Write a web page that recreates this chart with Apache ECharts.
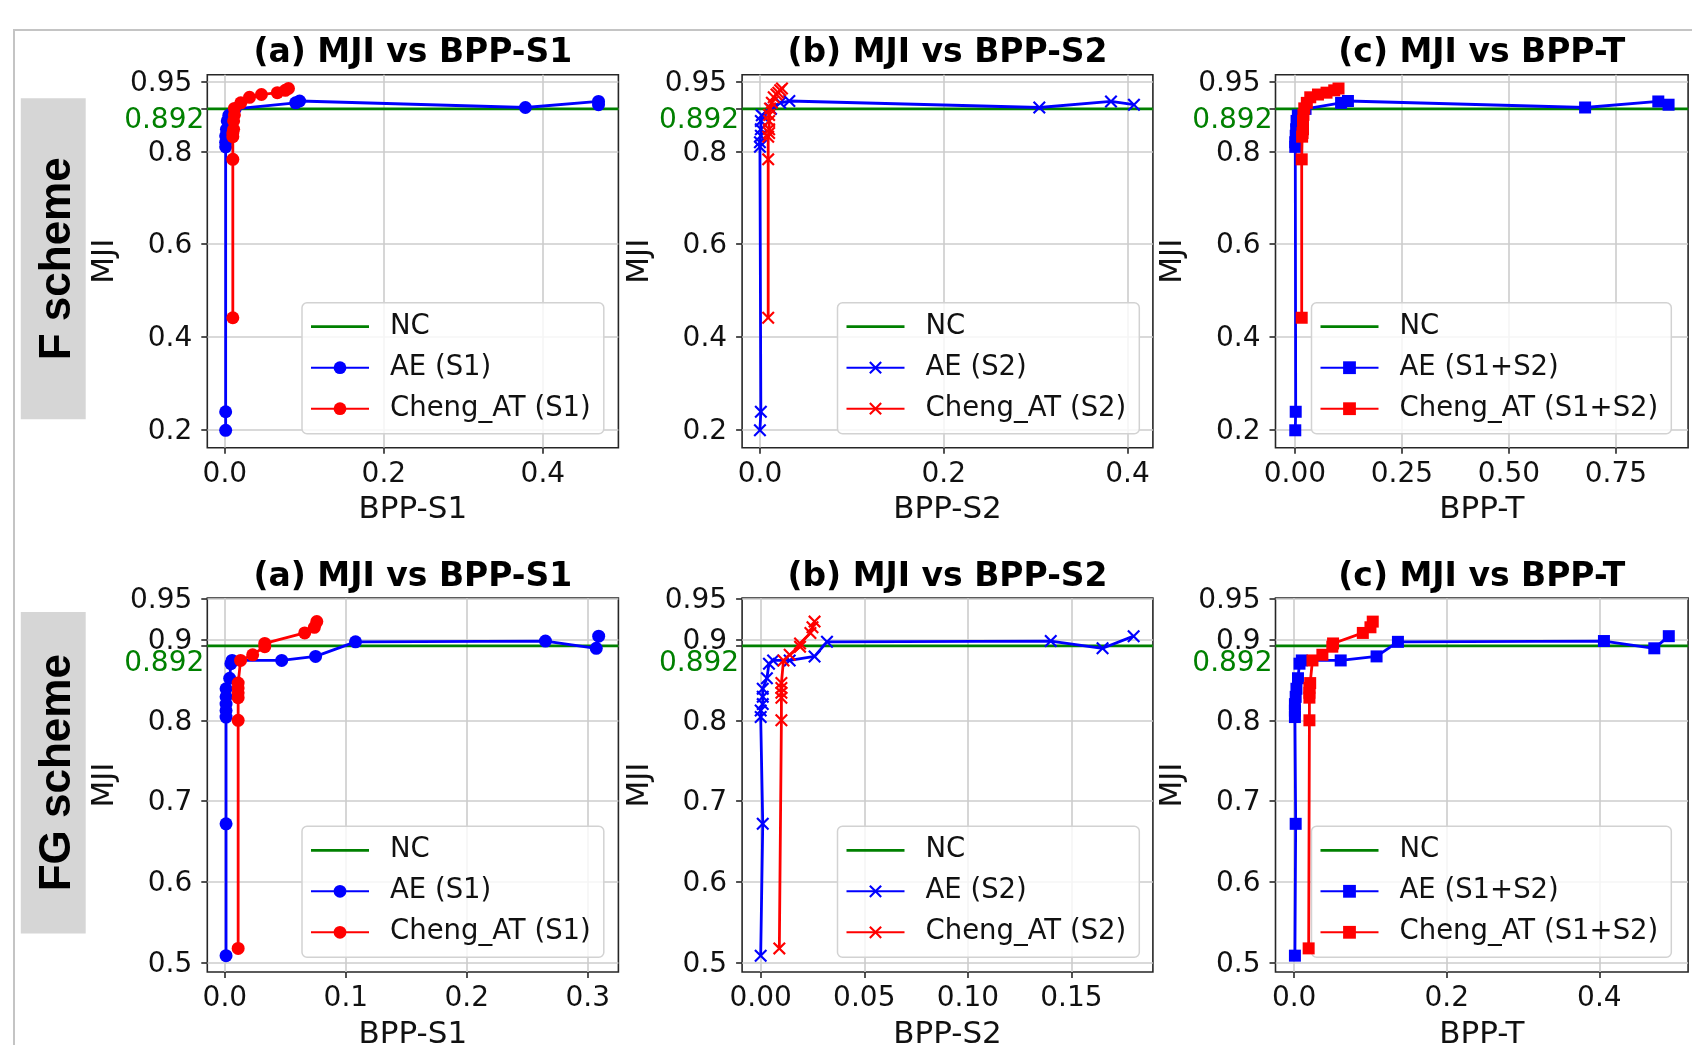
<!DOCTYPE html>
<html>
<head>
<meta charset="utf-8">
<script src="https://cdn.jsdelivr.net/npm/echarts@6/dist/echarts.min.js"></script>
<style>
  html, body { margin: 0; padding: 0; background: #fff; }
  #chart { width: 1692px; height: 1045px; }
</style>
</head>
<body>
<div id="chart"></div>
<script>
// NC reference MJI
const ncMji = 0.892;

// F scheme - AE
const fAeMji = [0.198, 0.238, 0.810, 0.820, 0.834, 0.848, 0.866, 0.878, 0.892, 0.905, 0.909, 0.895, 0.908, 0.901];
const fAeS1  = [0.001, 0.001, 0.001, 0.001, 0.001, 0.002, 0.003, 0.005, 0.013, 0.089, 0.094, 0.378, 0.470, 0.470];
const fAeS2  = [0.000, 0.001, 0.000, 0.000, 0.001, 0.001, 0.001, 0.002, 0.012, 0.022, 0.032, 0.304, 0.382, 0.407];
const fAeT   = [0.001, 0.002, 0.001, 0.001, 0.002, 0.003, 0.004, 0.007, 0.025, 0.108, 0.124, 0.678, 0.849, 0.873];

// F scheme - Cheng_AT
const fChMji = [0.441, 0.783, 0.832, 0.840, 0.848, 0.866, 0.879, 0.893, 0.905, 0.917, 0.923, 0.927, 0.932, 0.936];
const fChS1  = [0.010, 0.010, 0.010, 0.010, 0.011, 0.011, 0.012, 0.012, 0.020, 0.031, 0.046, 0.066, 0.076, 0.080];
const fChS2  = [0.009, 0.009, 0.009, 0.010, 0.010, 0.010, 0.010, 0.011, 0.013, 0.015, 0.018, 0.020, 0.022, 0.024];
const fChT   = [0.016, 0.016, 0.017, 0.018, 0.019, 0.019, 0.020, 0.022, 0.028, 0.036, 0.054, 0.074, 0.092, 0.102];

// FG scheme - AE
const fgAeMji = [0.509, 0.672, 0.804, 0.812, 0.820, 0.829, 0.839, 0.852, 0.870, 0.874, 0.874, 0.879, 0.897, 0.898, 0.889, 0.904];
const fgAeS1  = [0.001, 0.001, 0.001, 0.001, 0.001, 0.001, 0.001, 0.004, 0.005, 0.006, 0.047, 0.075, 0.108, 0.265, 0.307, 0.309];
const fgAeS2  = [0.000, 0.001, 0.000, 0.000, 0.001, 0.001, 0.001, 0.003, 0.004, 0.006, 0.014, 0.026, 0.032, 0.140, 0.165, 0.180];
const fgAeT   = [0.001, 0.002, 0.001, 0.001, 0.001, 0.002, 0.003, 0.005, 0.007, 0.010, 0.061, 0.108, 0.136, 0.406, 0.472, 0.491];

// FG scheme - Cheng_AT
const fgChMji = [0.518, 0.800, 0.828, 0.834, 0.840, 0.846, 0.874, 0.881, 0.891, 0.895, 0.908, 0.915, 0.922];
const fgChS1  = [0.011, 0.011, 0.011, 0.011, 0.011, 0.011, 0.013, 0.023, 0.033, 0.033, 0.066, 0.074, 0.076];
const fgChS2  = [0.009, 0.010, 0.010, 0.010, 0.010, 0.010, 0.011, 0.014, 0.019, 0.019, 0.024, 0.025, 0.026];
const fgChT   = [0.019, 0.020, 0.020, 0.020, 0.020, 0.021, 0.024, 0.037, 0.050, 0.051, 0.090, 0.100, 0.103];

// tick labels
const yTicksF  = [0.2, 0.4, 0.6, 0.8, 0.892, 0.95];
const yTicksFG = [0.5, 0.6, 0.7, 0.8, 0.892, 0.9, 0.95];
const xTicksFS1  = [0, 0.2, 0.4];
const xTicksFS2  = [0, 0.2, 0.4];
const xTicksFT   = [0, 0.25, 0.5, 0.75];
const xTicksFGS1 = [0, 0.1, 0.2, 0.3];
const xTicksFGS2 = [0, 0.05, 0.1, 0.15];
const xTicksFGT  = [0, 0.2, 0.4];

const rowLabels = ['F scheme', 'FG scheme'];
const titles = ['(a) MJI vs BPP-S1', '(b) MJI vs BPP-S2', '(c) MJI vs BPP-T'];
const xNames = ['BPP-S1', 'BPP-S2', 'BPP-T'];
const aeNames = ['AE (S1)', 'AE (S2)', 'AE (S1+S2)'];
const chNames = ['Cheng_AT (S1)', 'Cheng_AT (S2)', 'Cheng_AT (S1+S2)'];

const pairs = (xs, ys) => xs.map((x, i) => [x, ys[i]]);

const CROSS = 'path://M1.4,0L6,4.6L10.6,0L12,1.4L7.4,6L12,10.6L10.6,12L6,7.4L1.4,12L0,10.6L4.6,6L0,1.4Z';
const LINE_ICON = 'path://M0,0L58,0L58,2.8L0,2.8Z';
const symbols = ['circle', CROSS, 'rect'];

const FONT = '"DejaVu Sans", sans-serif';
const INK = '#111';

const cols = [
  { left: 207.3, width: 411.1, legendLeft: 302 },
  { left: 742.1, width: 410.8, legendLeft: 837.5 },
  { left: 1275.5, width: 412.6, legendLeft: 1311.5 }
];
const rows = [
  { top: 74.7, height: 373, yMin: 0.1604, yMax: 0.9658, yTicks: yTicksF, shift: 24,
    legendTop: 302.7, titleY: 53.5, boxTop: 98.3, boxH: 321 },
  { top: 598, height: 374, yMin: 0.4888, yMax: 0.9512, yTicks: yTicksFG, shift: 36,
    legendTop: 826.3, titleY: 577, boxTop: 612, boxH: 321.5 }
];

const panels = [
  { r: 0, c: 0, xMin: -0.0221, xMax: 0.495, xTicks: xTicksFS1, dec: 1, ae: pairs(fAeS1, fAeMji), ch: pairs(fChS1, fChMji) },
  { r: 0, c: 1, xMin: -0.0194, xMax: 0.4276, xTicks: xTicksFS2, dec: 1, ae: pairs(fAeS2, fAeMji), ch: pairs(fChS2, fChMji) },
  { r: 0, c: 2, xMin: -0.0452, xMax: 0.9186, xTicks: xTicksFT, dec: 2, ae: pairs(fAeT, fAeMji), ch: pairs(fChT, fChMji) },
  { r: 1, c: 0, xMin: -0.0145, xMax: 0.3253, xTicks: xTicksFGS1, dec: 1, ae: pairs(fgAeS1, fgAeMji), ch: pairs(fgChS1, fgChMji) },
  { r: 1, c: 1, xMin: -0.00897, xMax: 0.1893, xTicks: xTicksFGS2, dec: 2, ae: pairs(fgAeS2, fgAeMji), ch: pairs(fgChS2, fgChMji) },
  { r: 1, c: 2, xMin: -0.02445, xMax: 0.5163, xTicks: xTicksFGT, dec: 1, ae: pairs(fgAeT, fgAeMji), ch: pairs(fgChT, fgChMji) }
];

const grid = [], xAxis = [], yAxis = [], legend = [], series = [];
const graphic = [
  { type: 'rect', shape: { x: 14, y: 30, width: 1800, height: 1100 },
    style: { fill: 'none', stroke: '#c4c4c4', lineWidth: 2 }, z: -10 }
];

rows.forEach((row, r) => {
  graphic.push({ type: 'rect', shape: { x: 20.8, y: row.boxTop, width: 64.9, height: row.boxH },
    style: { fill: '#d6d6d6' }, z: -5 });
  graphic.push({ type: 'text', x: 58, y: row.boxTop + row.boxH / 2, rotation: Math.PI / 2,
    style: { text: rowLabels[r], fontFamily: '"Liberation Sans", Arial, sans-serif', fontWeight: 'bold',
      fontSize: 44, fill: '#000', align: 'center', verticalAlign: 'middle' } });
});

panels.forEach((p, i) => {
  const col = cols[p.c], row = rows[p.r];
  grid.push({ left: col.left, top: row.top, width: col.width, height: row.height,
    show: true, borderColor: '#262626', borderWidth: 1.6, outerBoundsMode: 'none', containLabel: false });

  graphic.push({ type: 'text', x: col.left + col.width / 2, y: row.titleY,
    style: { text: titles[p.c], fontFamily: FONT, fontWeight: 'bold', fontSize: 33, fill: '#000',
      align: 'center', verticalAlign: 'middle' } });

  xAxis.push({
    type: 'value', gridIndex: i, min: p.xMin, max: p.xMax,
    name: xNames[p.c], nameLocation: 'middle', nameGap: 47,
    nameTextStyle: { fontFamily: FONT, fontSize: 31, color: INK },
    axisLine: { show: false, onZero: false },
    axisTick: { show: true, length: 6, customValues: p.xTicks, lineStyle: { color: '#262626', width: 1.6 } },
    axisLabel: { customValues: p.xTicks, margin: 13, fontFamily: FONT, fontSize: 28, color: INK,
      formatter: v => Number(v).toFixed(p.dec) },
    splitLine: { show: true, lineStyle: { color: '#cccccc', width: 1.6 } }
  });

  yAxis.push({
    type: 'value', gridIndex: i, min: row.yMin, max: row.yMax,
    name: 'MJI', nameLocation: 'middle', nameGap: 86,
    nameTextStyle: { fontFamily: FONT, fontSize: 31, color: INK },
    axisLine: { show: false, onZero: false },
    axisTick: { show: true, length: 6, customValues: row.yTicks, lineStyle: { color: '#262626', width: 1.6 } },
    axisLabel: {
      customValues: row.yTicks, margin: 3,
      formatter: v => (Math.abs(v - ncMji) < 1e-9 ? '{g|' + v + '}' : '{n|' + v + '}'),
      rich: {
        n: { fontFamily: FONT, fontSize: 28, color: INK, padding: [4, 12, 0, 0] },
        g: { fontFamily: FONT, fontSize: 28, color: '#008000', padding: [row.shift, 0, 0, 0] }
      }
    },
    splitLine: { show: true, lineStyle: { color: '#cccccc', width: 1.6 } }
  });

  legend.push({
    left: col.legendLeft, top: row.legendTop, orient: 'vertical',
    data: [{ name: 'NC', icon: LINE_ICON }, aeNames[p.c], chNames[p.c]],
    itemWidth: 58, itemHeight: 16, itemGap: 11,
    padding: [9, 13, 10, 8],
    backgroundColor: 'rgba(255,255,255,0.8)', borderColor: '#d2d2d2', borderWidth: 1.5, borderRadius: 5,
    textStyle: { fontFamily: FONT, fontSize: 27.5, color: INK, lineHeight: 30, padding: [0, 0, 0, 16] },
    selectedMode: false
  });

  series.push({
    name: 'NC', type: 'line', xAxisIndex: i, yAxisIndex: i,
    data: [[p.xMin, ncMji], [p.xMax, ncMji]],
    symbol: 'none', lineStyle: { color: '#008000', width: 2.6 }, itemStyle: { color: '#008000' }, z: 2
  });
  series.push({
    name: aeNames[p.c], type: 'line', xAxisIndex: i, yAxisIndex: i, data: p.ae,
    symbol: symbols[p.c], symbolSize: p.c === 2 ? 12 : 13,
    lineStyle: { color: '#0000ff', width: 2.8 }, itemStyle: { color: '#0000ff' }, z: 3
  });
  series.push({
    name: chNames[p.c], type: 'line', xAxisIndex: i, yAxisIndex: i, data: p.ch,
    symbol: symbols[p.c], symbolSize: p.c === 2 ? 12 : 13,
    lineStyle: { color: '#ff0000', width: 2.8 }, itemStyle: { color: '#ff0000' }, z: 4
  });
});

const chart = echarts.init(document.getElementById('chart'));
chart.setOption({
  animation: false,
  backgroundColor: '#fff',
  grid, xAxis, yAxis, legend, series, graphic
});
</script>
</body>
</html>
